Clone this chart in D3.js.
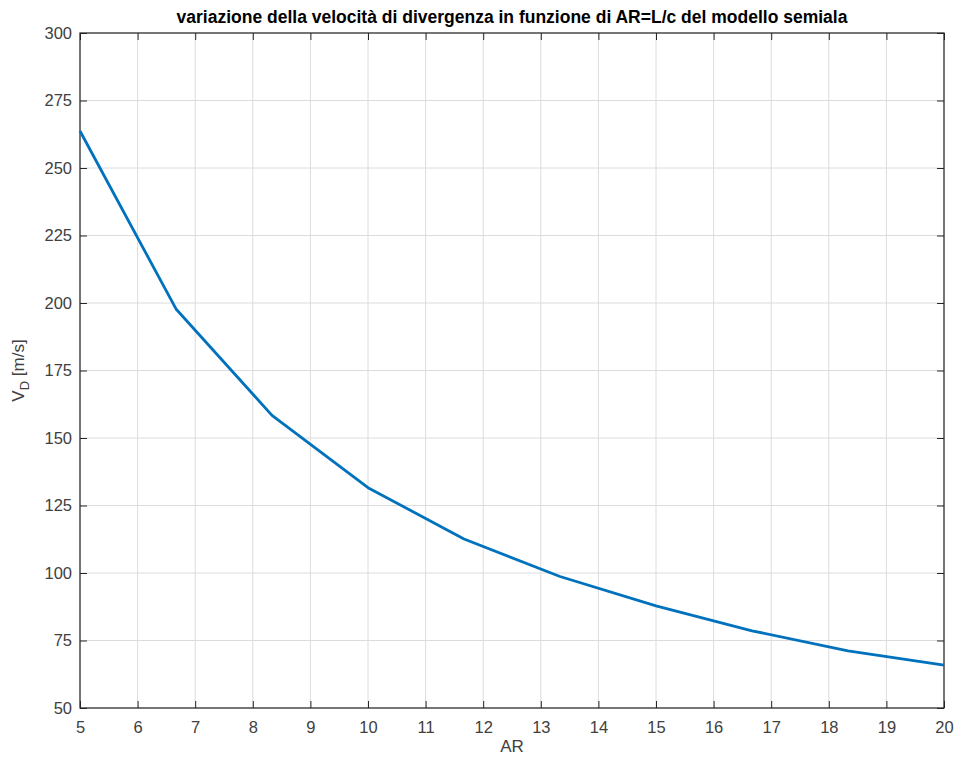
<!DOCTYPE html>
<html>
<head>
<meta charset="utf-8">
<script src="https://cdn.jsdelivr.net/npm/d3@7"></script>
<style>
  body { margin: 0; background: #fff; }
  svg { display: block; }
  text { font-family: Arial, "Liberation Sans", Helvetica, sans-serif; }
</style>
</head>
<body>
<div id="chart"></div>
<script>
// data (AR = linspace(5,20,10))
var arValues = [5, 6.667, 8.333, 10, 11.667, 13.333, 15, 16.667, 18.333, 20];
var vdValues = [263.7, 197.8, 158.4, 131.6, 112.6, 98.7, 87.8, 78.6, 71.2, 65.9];
var xTicks = [5, 6, 7, 8, 9, 10, 11, 12, 13, 14, 15, 16, 17, 18, 19, 20];
var yTicks = [50, 75, 100, 125, 150, 175, 200, 225, 250, 275, 300];

var W = 957, H = 758;
var margin = { top: 33, right: 13, bottom: 50, left: 80 },
  width = W - margin.left - margin.right,
  height = H - margin.top - margin.bottom;

var svg = d3.select('#chart').append('svg').attr('width', W).attr('height', H);
var g = svg.append('g').attr('transform', 'translate(' + margin.left + ',' + margin.top + ')');

var x = d3.scaleLinear().domain([5, 20]).range([0, width]);
var y = d3.scaleLinear().domain([50, 300]).range([height, 0]);

// grid
g.append('g').selectAll('line').data(xTicks).join('line')
  .attr('x1', d => x(d)).attr('x2', d => x(d)).attr('y1', 0).attr('y2', height)
  .attr('stroke', '#dcdcdc').attr('stroke-width', 1);
g.append('g').selectAll('line').data(yTicks).join('line')
  .attr('y1', d => y(d)).attr('y2', d => y(d)).attr('x1', 0).attr('x2', width)
  .attr('stroke', '#dcdcdc').attr('stroke-width', 1);

// axes, ticks inward like matlab
var tl = 7;
function styleAxis(sel) {
  sel.select('.domain').remove();
  sel.selectAll('.tick line').attr('stroke', '#262626');
  sel.selectAll('.tick text').attr('fill', '#404040').style('font-size', '16.5px')
    .style('font-family', 'Arial, "Liberation Sans", sans-serif');
}
g.append('g').attr('transform', 'translate(0,' + height + ')')
  .call(d3.axisBottom(x).tickValues(xTicks).tickSizeInner(-tl).tickPadding(13).tickFormat(d3.format('d')))
  .call(styleAxis);
g.append('g').call(d3.axisTop(x).tickValues(xTicks).tickSizeInner(-tl).tickFormat(''))
  .call(styleAxis);
g.append('g')
  .call(d3.axisLeft(y).tickValues(yTicks).tickSizeInner(-tl).tickPadding(8).tickFormat(d3.format('d')))
  .call(styleAxis);
g.append('g').attr('transform', 'translate(' + width + ',0)')
  .call(d3.axisRight(y).tickValues(yTicks).tickSizeInner(-tl).tickFormat(''))
  .call(styleAxis);

// box
g.append('rect').attr('width', width).attr('height', height)
  .attr('fill', 'none').attr('stroke', '#262626').attr('stroke-width', 1.2);

// line
var pts = arValues.map((a, i) => [a, vdValues[i]]);
g.append('path').datum(pts)
  .attr('fill', 'none').attr('stroke', '#0072BD').attr('stroke-width', 2.8)
  .attr('stroke-linejoin', 'round')
  .attr('d', d3.line().x(d => x(d[0])).y(d => y(d[1])));

// title and labels
svg.append('text').attr('x', margin.left + width / 2).attr('y', 23)
  .attr('text-anchor', 'middle').style('font-size', '17.5px').style('font-weight', 'bold')
  .attr('fill', '#000')
  .text('variazione della velocità di divergenza in funzione di AR=L/c del modello semiala');

svg.append('text').attr('x', margin.left + width / 2).attr('y', 752)
  .attr('text-anchor', 'middle').style('font-size', '17px').attr('fill', '#404040')
  .text('AR');

var yl = svg.append('text').attr('transform', 'translate(24,' + (margin.top + height / 2) + ') rotate(-90)')
  .attr('text-anchor', 'middle').style('font-size', '17px').attr('fill', '#404040');
yl.append('tspan').text('V');
yl.append('tspan').attr('dy', 5).style('font-size', '13px').text('D');
yl.append('tspan').attr('dy', -5).text(' [m/s]');
</script>
</body>
</html>
